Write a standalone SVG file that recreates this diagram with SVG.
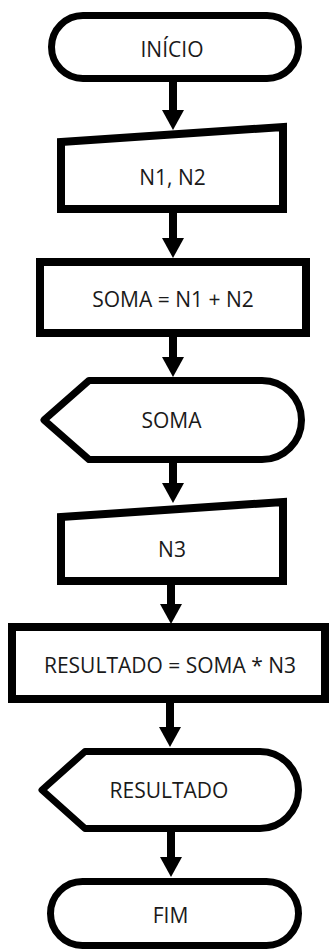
<svg xmlns="http://www.w3.org/2000/svg" width="329" height="951" viewBox="0 0 329 951">
<style>
.bg{fill:#ffffff}
.term,.disp{fill:#ffffff;stroke:#000;stroke-width:7;stroke-linejoin:round}
.box,.inp{fill:#ffffff;stroke:#000;stroke-width:8;stroke-linejoin:miter}
.lbl{font-family:"Open Sans","Liberation Sans",sans-serif;font-size:21px;fill:#1a1a1a;text-anchor:middle}
.edge{stroke:#000;stroke-width:8;fill:none;marker-end:url(#ah)}
</style>
<defs>
<marker id="ah" viewBox="0 0 20 22" markerWidth="20" markerHeight="22" refX="1" refY="11" orient="auto" markerUnits="userSpaceOnUse">
<path d="M0,0 L20,11 L0,22 Z" fill="#000"/>
</marker>
</defs>
<rect class="bg" x="0" y="0" width="329" height="951"/>
<g id="connectors">
<line class="edge" x1="173" y1="82" x2="173" y2="111"/>
<line class="edge" x1="173" y1="212" x2="173" y2="239"/>
<line class="edge" x1="173" y1="336" x2="173" y2="358"/>
<line class="edge" x1="173" y1="462" x2="173" y2="484"/>
<line class="edge" x1="171" y1="584" x2="171" y2="605"/>
<line class="edge" x1="170" y1="702" x2="170" y2="728"/>
<line class="edge" x1="171" y1="831" x2="171" y2="858"/>
</g>
<g id="inicio">
<rect class="term" x="51.5" y="15.5" width="247" height="63" rx="31.5" ry="31.5"/>
<text class="lbl" x="172" y="57">INÍCIO</text>
</g>
<g id="entrada1">
<polygon class="inp" points="61,142 283,127 283,209 61,209"/>
<text class="lbl" x="172.5" y="185">N1, N2</text>
</g>
<g id="soma">
<rect class="box" x="40" y="262" width="266" height="71"/>
<text class="lbl" x="173" y="307">SOMA = N1 + N2</text>
</g>
<g id="saida1">
<path class="disp" d="M44,420 L89,380.5 L262,380.5 A39.5,39.5 0 0 1 262,459.5 L89,459.5 Z"/>
<text class="lbl" x="171.5" y="428">SOMA</text>
</g>
<g id="entrada2">
<polygon class="inp" points="61,517 283,502 283,581 61,581"/>
<text class="lbl" x="172" y="557">N3</text>
</g>
<g id="resultado">
<rect class="box" x="12" y="627" width="313" height="72"/>
<text class="lbl" x="170" y="673">RESULTADO = SOMA * N3</text>
</g>
<g id="saida2">
<path class="disp" d="M42,790 L85,751.5 L260,751.5 A38.5,38.5 0 0 1 260,828.5 L85,828.5 Z"/>
<text class="lbl" x="169" y="798">RESULTADO</text>
</g>
<g id="fim">
<rect class="term" x="50.5" y="881.5" width="248" height="64" rx="32" ry="32"/>
<text class="lbl" x="170.5" y="923">FIM</text>
</g>
</svg>
